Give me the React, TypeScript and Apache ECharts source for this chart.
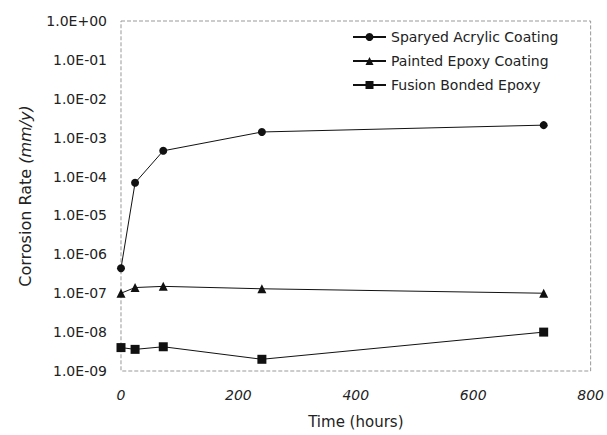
import React, { useEffect, useRef } from "react";
import * as echarts from "echarts";

const times = [0, 24, 72, 240, 720];
const acrylic = [4.4e-7, 6.9e-5, 4.6e-4, 1.4e-3, 2.1e-3];
const epoxy = [1.0e-7, 1.4e-7, 1.5e-7, 1.3e-7, 1.0e-7];
const fusion = [4.0e-9, 3.6e-9, 4.2e-9, 2.0e-9, 1.0e-8];
const seriesNames = ["Sparyed Acrylic Coating", "Painted Epoxy Coating", "Fusion Bonded Epoxy"];
const xTicks = { min: 0, max: 800, interval: 200 };
const yRange = { min: 1e-9, max: 1 };

function fmtExp(v: number) {
  const e = Math.round(Math.log10(v));
  const sign = e < 0 ? "-" : "+";
  return `1.0E${sign}${String(Math.abs(e)).padStart(2, "0")}`;
}

export default function App() {
  const ref = useRef<HTMLDivElement>(null);
  useEffect(() => {
    document.body.style.margin = "0";
    const chart = echarts.init(ref.current!, null, { renderer: "svg" });
    const font = "'DejaVu Sans', Arial, sans-serif";
    const mk = (name: string, data: number[], symbol: string, size: number) => ({
      name,
      type: "line",
      data: times.map((t, i) => [t, data[i]]),
      symbol,
      symbolSize: size,
      lineStyle: { color: "#111", width: 1 },
      itemStyle: { color: "#111" },
    });
    chart.setOption({
      animation: false,
      backgroundColor: "#fff",
      textStyle: { fontFamily: font },
      grid: {
        left: 121,
        right: 16,
        top: 21,
        bottom: 64,
        show: true,
        borderColor: "#999",
        borderWidth: 1,
        borderType: "dashed",
      },
      legend: {
        orient: "vertical",
        left: 347,
        top: 25,
        itemWidth: 33,
        itemHeight: 10,
        itemGap: 10,
        textStyle: { fontSize: 14, color: "#222", fontFamily: font },
        data: seriesNames,
      },
      xAxis: {
        type: "value",
        min: xTicks.min,
        max: xTicks.max,
        interval: xTicks.interval,
        name: "Time (hours)",
        nameLocation: "middle",
        nameGap: 43,
        nameTextStyle: { fontSize: 15, color: "#222", fontFamily: font },
        axisLine: { show: false },
        axisTick: { show: false },
        splitLine: { show: false },
        axisLabel: { fontSize: 14, color: "#222", fontStyle: "italic", margin: 17, fontFamily: font },
      },
      yAxis: {
        type: "log",
        logBase: 10,
        min: yRange.min,
        max: yRange.max,
        name: "{a|Corrosion Rate }{b|(mm/y)}",
        nameLocation: "middle",
        nameGap: 88,
        nameTextStyle: {
          fontSize: 16,
          color: "#222",
          fontFamily: font,
          rich: {
            a: { fontSize: 16, color: "#222", fontFamily: font },
            b: { fontSize: 16, color: "#222", fontFamily: font, fontStyle: "italic" },
          },
        },
        axisLine: { show: false },
        axisTick: { show: false },
        splitLine: { show: false },
        minorTick: { show: false },
        axisLabel: { fontSize: 14, color: "#222", margin: 14, fontFamily: font, formatter: (v: number) => fmtExp(v) },
      },
      series: [
        mk(seriesNames[0], acrylic, "circle", 8),
        mk(seriesNames[1], epoxy, "triangle", 9),
        mk(seriesNames[2], fusion, "rect", 9),
      ],
    });
    return () => chart.dispose();
  }, []);
  return <div ref={ref} style={{ width: 607, height: 435, position: "absolute", left: 0, top: 0 }} />;
}
